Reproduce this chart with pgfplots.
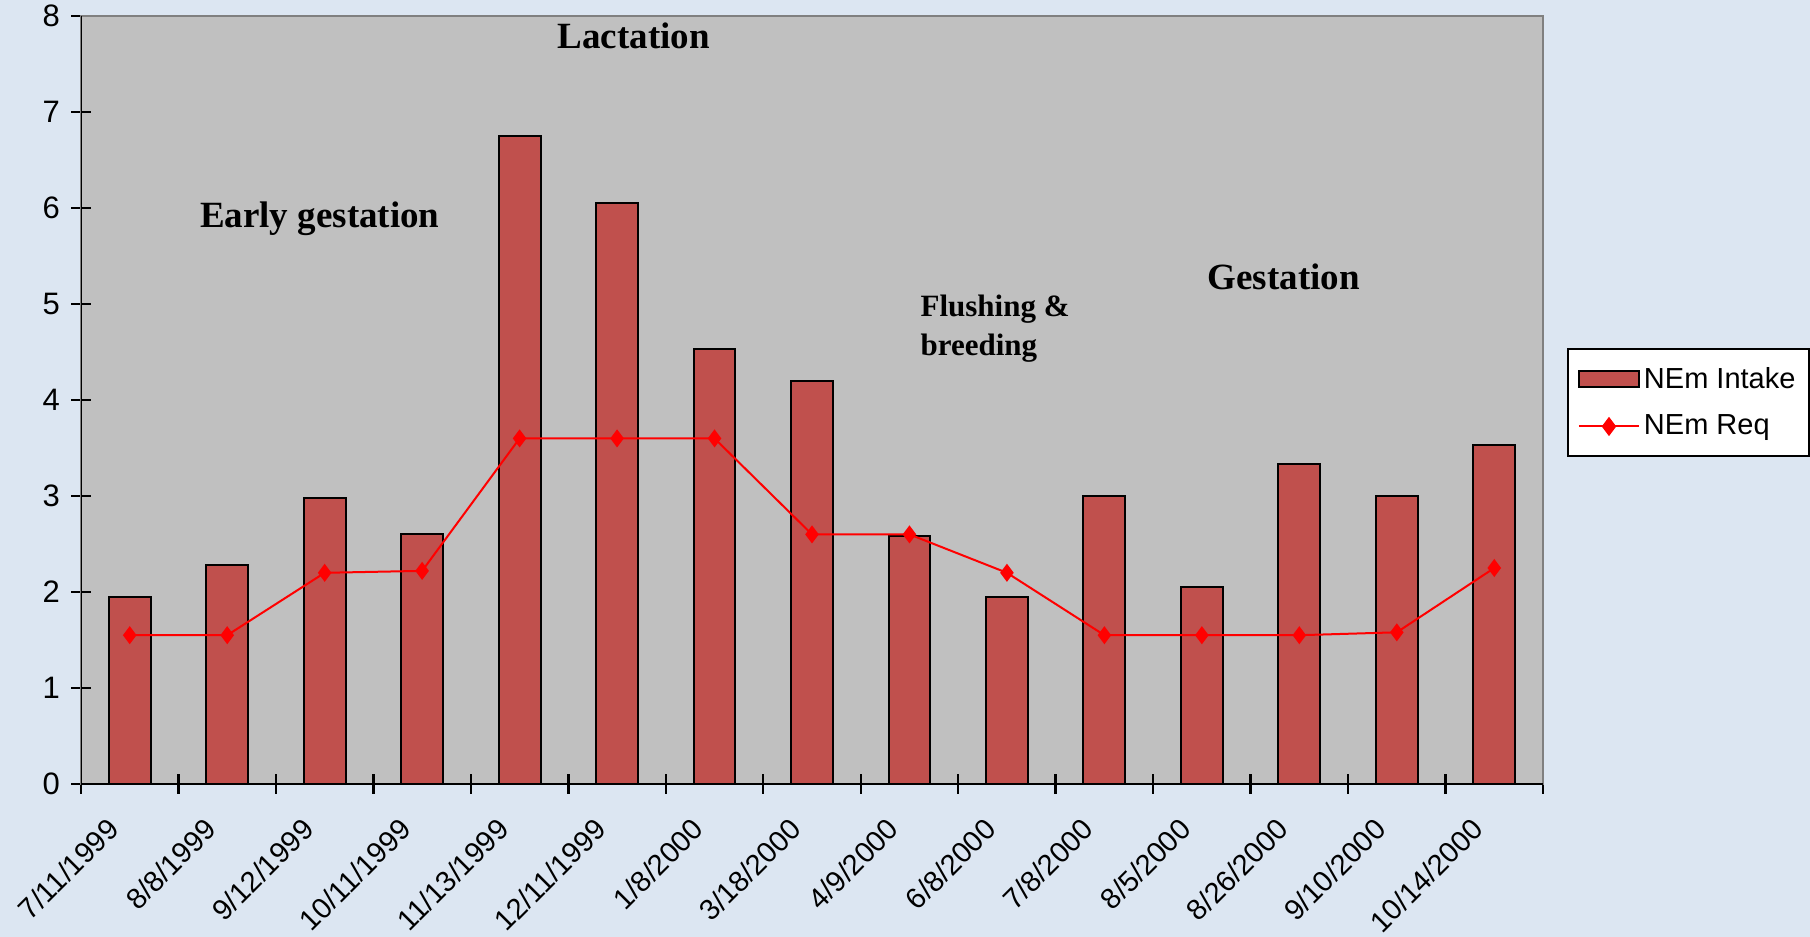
\documentclass[border=0pt]{standalone}
\usepackage{pgfplots}
\pgfplotsset{compat=1.18}
\usepackage{fontspec}
\setmainfont{Liberation Sans}
\newfontfamily\timesfont{Liberation Serif}
\definecolor{bgblue}{HTML}{DCE6F2}
\definecolor{plotgray}{HTML}{C0C0C0}
\definecolor{barred}{HTML}{C0504D}
\definecolor{framegray}{HTML}{808080}

\pgfplotstableread{
idx intake req
0  1.95 1.55
1  2.28 1.55
2  2.98 2.20
3  2.60 2.22
4  6.75 3.60
5  6.05 3.60
6  4.53 3.60
7  4.20 2.60
8  2.58 2.60
9  1.95 2.20
10 3.00 1.55
11 2.05 1.55
12 3.33 1.55
13 3.00 1.58
14 3.53 2.25
}\datatable

\begin{document}
\begin{tikzpicture}[x=1pt,y=1pt]
\fill[bgblue] (0,0) rectangle (905,468.5);
\useasboundingbox (0,0) rectangle (905,468.5);
\begin{axis}[
  at={(40.5pt,76.5pt)}, anchor=south west,
  width=731pt, height=384pt, scale only axis,
  xmin=-0.5, xmax=14.5, ymin=0, ymax=8,
  axis background/.style={fill=plotgray},
  axis line style={framegray, line width=0.8pt},
  xtick={-0.5,0.5,...,14.5},
  x tick label as interval,
  xticklabels={7/11/1999,8/8/1999,9/12/1999,10/11/1999,11/13/1999,12/11/1999,1/8/2000,3/18/2000,4/9/2000,6/8/2000,7/8/2000,8/5/2000,8/26/2000,9/10/2000,10/14/2000},
  ytick={0,1,...,8},
  tick align=center,
  major tick length=10pt,
  tick style={black, line width=1.2pt},
  xtick pos=bottom, ytick pos=left,
  /pgf/number format/assume math mode=true,
  x tick label style={xshift=-12pt, yshift=-11pt, rotate=45, anchor=north east, inner sep=0pt, font=\fontsize{14.5}{17}\selectfont},
  y tick label style={font=\fontsize{15.5}{18}\selectfont},
  yticklabel style={xshift=-2pt},
  legend style={at={(1.0164,0.5677)}, anchor=north west, draw=black, line width=1pt, fill=white,
    font=\fontsize{14.5}{17}\selectfont, row sep=8pt, inner xsep=5pt, inner ysep=7pt,
    cells={anchor=west}},
  legend cell align=left,
]
\addplot[draw=black, fill=barred, line width=1pt, ybar, bar width=0.43,
  legend image code/.code={\draw[draw=black, fill=barred, line width=1pt] (0pt,-4pt) rectangle (30pt,4pt);}]
  table[x=idx, y=intake] {\datatable};
\addlegendentry{NEm Intake}
\addplot[red, line width=1pt, mark=diamond*, mark size=3.7pt, mark options={fill=red, draw=red},
  legend image code/.code={\draw[red, line width=1pt] (0pt,0pt) -- (30pt,0pt); \fill[red] (15pt,4pt) -- (12pt,0pt) -- (15pt,-4pt) -- (18pt,0pt) -- cycle;}]
  table[x=idx, y=req] {\datatable};
\addlegendentry{NEm Req}
\draw[black, line width=1.2pt] (rel axis cs:0,1) -- (rel axis cs:0,0) -- (rel axis cs:1,0);
\node[font=\timesfont\bfseries\fontsize{18.5}{22}\selectfont] at (axis cs:5.17,7.79) {Lactation};
\node[font=\timesfont\bfseries\fontsize{18.5}{22}\selectfont] at (axis cs:1.95,5.89) {Early gestation};
\node[font=\timesfont\bfseries\fontsize{18.5}{22}\selectfont] at (axis cs:11.84,5.28) {Gestation};
\node[anchor=north west, align=left, inner sep=0pt, font=\timesfont\bfseries\fontsize{15.5}{19.5}\selectfont] at (axis cs:8.11,5.10) {Flushing \&\\breeding};
\end{axis}
\end{tikzpicture}
\end{document}
